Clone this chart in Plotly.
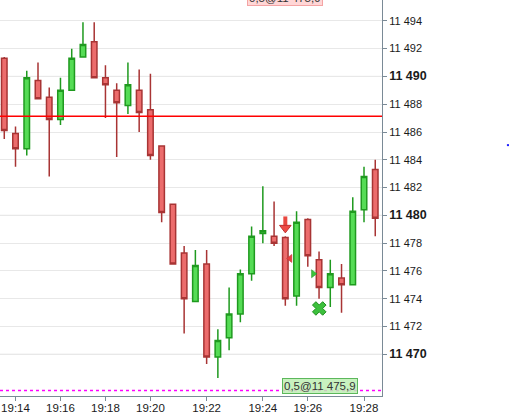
import plotly.graph_objects as go

# ---- data ----
bar_index = list(range(34))
opens  = [11491.3, 11485.9, 11484.8, 11489.7, 11488.5, 11486.9, 11489.0, 11491.4, 11492.5, 11489.9,
          11489.0, 11487.9, 11489.0, 11487.6, 11485.0, 11480.8, 11477.3, 11473.8, 11476.5, 11469.8,
          11471.2, 11472.9, 11475.8, 11478.7, 11478.5, 11478.4, 11474.2, 11479.7, 11476.8, 11474.8,
          11475.5, 11475.0, 11480.4, 11483.3]
highs  = [11491.4, 11486.4, 11490.4, 11491.0, 11489.2, 11489.9, 11492.0, 11493.9, 11493.9, 11490.8,
          11489.5, 11491.0, 11490.5, 11490.2, 11485.0, 11480.8, 11477.8, 11477.5, 11477.5, 11471.8,
          11474.8, 11476.1, 11479.2, 11482.1, 11481.0, 11478.5, 11480.3, 11479.8, 11477.4, 11476.8,
          11476.5, 11481.3, 11483.5, 11484.0]
lows   = [11485.5, 11483.5, 11484.3, 11488.4, 11482.8, 11486.5, 11489.0, 11491.4, 11489.9, 11487.0,
          11484.2, 11487.3, 11486.0, 11484.0, 11479.5, 11476.5, 11471.5, 11473.8, 11469.3, 11468.3,
          11470.3, 11472.3, 11475.3, 11478.0, 11477.8, 11473.5, 11473.5, 11476.3, 11474.0, 11473.4,
          11473.0, 11475.0, 11479.5, 11478.5]
closes = [11486.1, 11484.8, 11489.9, 11488.4, 11486.9, 11489.0, 11491.3, 11492.3, 11489.9, 11489.4,
          11488.1, 11489.4, 11487.4, 11484.3, 11480.2, 11476.5, 11474.0, 11476.4, 11469.8, 11471.0,
          11472.9, 11475.8, 11478.5, 11478.9, 11478.0, 11474.0, 11479.5, 11477.1, 11474.8, 11475.8,
          11475.0, 11480.3, 11482.8, 11479.8]

time_tick_index = [1, 5, 9, 13, 18, 23, 27, 32]
time_tick_labels = ["19:14", "19:16", "19:18", "19:20", "19:22", "19:24", "19:26", "19:28"]

price_ticks = list(range(11470, 11495, 2))
major_levels = [11470, 11480, 11490]
red_level = 11487.13
position_level = 11467.4

# signal markers
sell_arrow_x, sell_arrow_y = [25.0], [11479.3]
left_tri_x, left_tri_y = [25.42], [11476.9]
right_tri_x, right_tri_y = [27.49], [11475.8]
cross_x, cross_y = [28.02], [11473.3]

order_label = "0,5@11 475,9"

# ---- figure ----
def fmt(v):
    s = f"{v:,}".replace(",", " ")
    if v in major_levels:
        return f"<b><span style='font-size:12.5px'>{s}</span></b>"
    return s

fig = go.Figure()
fig.add_trace(go.Candlestick(
    x=bar_index, open=opens, high=highs, low=lows, close=closes,
    increasing=dict(line=dict(color="#1f9a1f", width=1.5), fillcolor="#55dc55"),
    decreasing=dict(line=dict(color="#a83434", width=1.5), fillcolor="#ec6c6c"),
    whiskerwidth=0, showlegend=False, hoverinfo="skip",
))
# block arrow: shaft + head (offsets in price units are purely stylistic)
fig.add_trace(go.Scatter(x=sell_arrow_x, y=[v + 0.22 for v in sell_arrow_y], mode="markers",
                         showlegend=False, hoverinfo="skip",
                         marker=dict(symbol="line-ns", size=8,
                                     line=dict(color="#e84840", width=4))))
fig.add_trace(go.Scatter(x=sell_arrow_x, y=[v - 0.2 for v in sell_arrow_y], mode="markers",
                         showlegend=False, hoverinfo="skip",
                         marker=dict(symbol="triangle-down", size=10, color="#ee4a44",
                                     line=dict(color="#c03030", width=1))))
fig.add_trace(go.Scatter(x=left_tri_x, y=left_tri_y, mode="markers", showlegend=False,
                         marker=dict(symbol="triangle-left", size=7, color="#e84040",
                                     line=dict(color="#b83030", width=0.5))))
fig.add_trace(go.Scatter(x=right_tri_x, y=right_tri_y, mode="markers", showlegend=False,
                         marker=dict(symbol="triangle-right", size=7, color="#3cc43c",
                                     line=dict(color="#1e8e1e", width=0.5))))
fig.add_trace(go.Scatter(x=cross_x, y=cross_y, mode="markers", showlegend=False,
                         marker=dict(symbol="x", size=12, color="#3cc03c",
                                     line=dict(color="#1e8e1e", width=1))))

shapes = []
for lv in major_levels:
    shapes.append(dict(type="line", xref="paper", x0=0, x1=1, yref="y", y0=lv, y1=lv,
                       line=dict(color="#d2d2d2", width=1), layer="below"))
shapes.append(dict(type="line", xref="paper", x0=0, x1=1, yref="y", y0=red_level, y1=red_level,
                   line=dict(color="#ff0000", width=1.5)))
shapes.append(dict(type="line", xref="paper", x0=0, x1=1, yref="y", y0=position_level, y1=position_level,
                   line=dict(color="#ff00ff", width=1.5, dash="3px,3px")))
shapes.append(dict(type="rect", xref="paper", x0=1.327, x1=1.333, yref="paper", y0=0.631, y1=0.636,
                   line=dict(width=0), fillcolor="#2020ff"))

annotations = [
    dict(text=order_label, xref="paper", x=319.5 / 382, xanchor="center",
         yref="paper", y=0.0255, yanchor="middle",
         showarrow=False, font=dict(family="Liberation Sans, Arial", size=11.5, color="#333333"),
         bgcolor="rgba(190,238,180,0.85)", bordercolor="#5cb85c", borderwidth=1, borderpad=1),
    dict(text=order_label, xref="paper", x=285 / 382, xanchor="center",
         yref="paper", y=1 - 6 / 396, yanchor="bottom",
         showarrow=False, font=dict(family="Liberation Sans, Arial", size=11.5, color="#333333"),
         bgcolor="#ffd6d6", bordercolor="#f4a4a4", borderwidth=1, borderpad=1),
]

axis_col = "#7a8a96"
fig.update_layout(
    width=509, height=413,
    margin=dict(l=0, r=127, t=0, b=17, autoexpand=False),
    paper_bgcolor="white", plot_bgcolor="white",
    font=dict(family="Liberation Sans, Arial", size=11, color="#1a1a1a"),
    shapes=shapes, annotations=annotations,
    xaxis=dict(range=[-0.38, 33.6], showgrid=False, zeroline=False, showline=True, automargin=False,
               linecolor=axis_col, linewidth=1, ticks="outside", ticklen=4, tickcolor=axis_col,
               tickvals=time_tick_index, ticktext=time_tick_labels, rangeslider=dict(visible=False),
               tickfont=dict(size=11.5), ticklabelstandoff=-3),
    yaxis=dict(range=[11467.0, 11495.5], side="right", showgrid=True, gridcolor="#e8e8e8",
               zeroline=False, showline=True, linecolor=axis_col, linewidth=1, automargin=False,
               ticks="outside", ticklen=4, tickcolor=axis_col,
               tickvals=price_ticks, ticktext=[fmt(v) for v in price_ticks],
               tickfont=dict(size=11)),
)

fig.write_html("out.html", config={"displayModeBar": False},
               post_script="document.body.style.margin='0';document.body.style.overflow='hidden';")
